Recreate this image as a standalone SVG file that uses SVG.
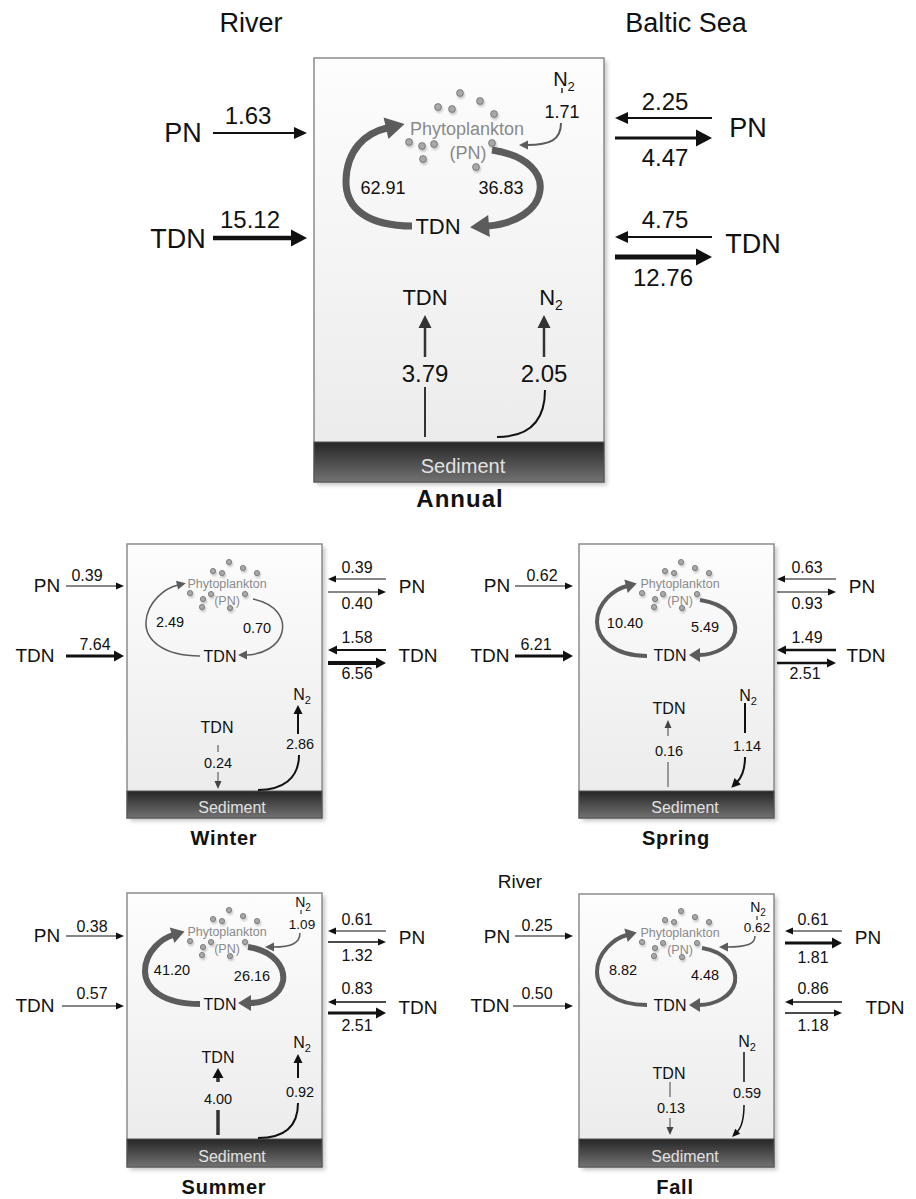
<svg xmlns="http://www.w3.org/2000/svg" width="916" height="1199" viewBox="0 0 916 1199">
<defs>
<linearGradient id="gBox" x1="0" y1="0" x2="0" y2="1"><stop offset="0" stop-color="#fdfdfd"/><stop offset="1" stop-color="#eaeaea"/></linearGradient>
<linearGradient id="gSed" x1="0" y1="0" x2="0" y2="1"><stop offset="0" stop-color="#262626"/><stop offset="1" stop-color="#727272"/></linearGradient>
<filter id="sh" x="-10%" y="-10%" width="130%" height="130%"><feGaussianBlur stdDeviation="2"/></filter>
<filter id="dsh" x="-50%" y="-50%" width="250%" height="250%"><feDropShadow dx="1" dy="2" stdDeviation="1.2" flood-color="#999" flood-opacity="0.6"/></filter>
<marker id="mBa" markerUnits="userSpaceOnUse" refX="1" refY="0" orient="auto" overflow="visible"><path d="M0,-6 L13,0 L0,6 z" fill="#111"/></marker>
<marker id="mBA" markerUnits="userSpaceOnUse" refX="1" refY="0" orient="auto" overflow="visible"><path d="M0,-8.5 L16,0 L0,8.5 z" fill="#111"/></marker>
<marker id="mDa" markerUnits="userSpaceOnUse" refX="1" refY="0" orient="auto" overflow="visible"><path d="M0,-6.5 L13,0 L0,6.5 z" fill="#333"/></marker>
<marker id="mBs" markerUnits="userSpaceOnUse" refX="1" refY="0" orient="auto" overflow="visible"><path d="M0,-3.5 L8,0 L0,3.5 z" fill="#111"/></marker>
<marker id="mBm" markerUnits="userSpaceOnUse" refX="1" refY="0" orient="auto" overflow="visible"><path d="M0,-4.5 L9,0 L0,4.5 z" fill="#111"/></marker>
<marker id="mBS" markerUnits="userSpaceOnUse" refX="1" refY="0" orient="auto" overflow="visible"><path d="M0,-5.5 L10,0 L0,5.5 z" fill="#111"/></marker>
<marker id="mDs" markerUnits="userSpaceOnUse" refX="1" refY="0" orient="auto" overflow="visible"><path d="M0,-3.5 L8,0 L0,3.5 z" fill="#444"/></marker>
<marker id="mGs" markerUnits="userSpaceOnUse" refX="1" refY="0" orient="auto" overflow="visible"><path d="M0,-4.5 L9,0 L0,4.5 z" fill="#5c5c5c"/></marker>
<marker id="mGm" markerUnits="userSpaceOnUse" refX="1" refY="0" orient="auto" overflow="visible"><path d="M0,-7 L11,0 L0,7 z" fill="#5c5c5c"/></marker>
<marker id="mGl" markerUnits="userSpaceOnUse" refX="1" refY="0" orient="auto" overflow="visible"><path d="M0,-8 L13,0 L0,8 z" fill="#5c5c5c"/></marker>
<marker id="mGA" markerUnits="userSpaceOnUse" refX="1" refY="0" orient="auto" overflow="visible"><path d="M0,-11 L19,0 L0,11 z" fill="#5c5c5c"/></marker>
<g id="sdots" class="dot">
<circle cx="102" cy="18" r="2.6"/><circle cx="86" cy="27" r="2.6"/><circle cx="95" cy="29" r="2.6"/><circle cx="116" cy="24" r="2.6"/><circle cx="130" cy="29" r="2.6"/><circle cx="63" cy="49" r="2.6"/><circle cx="76" cy="55" r="2.6"/><circle cx="84" cy="50" r="2.6"/><circle cx="75" cy="63" r="2.6"/><circle cx="118" cy="50" r="2.6"/><circle cx="103" cy="64" r="2.6"/>
</g>
</defs>
<style>
text{font-family:"Liberation Sans",Arial,Helvetica,sans-serif;text-anchor:middle;fill:#111}
.box{fill:url(#gBox);stroke:#8c8c8c;stroke-width:1.5}
.shadow{fill:#c4c4c4;filter:url(#sh)}
.sed{fill:url(#gSed);stroke:#555;stroke-width:1}
text.sedt{fill:#e2e2e2}
text.ph{fill:#8a8a8a}
.dot{fill:#a8a8a8;stroke:#6e6e6e;stroke-width:0.8;filter:url(#dsh)}
.bl{stroke:#111;fill:none}
.dk{stroke:#333;fill:none}
.gy{stroke:#5c5c5c;fill:none}
text.ttl{font-weight:bold}
.f27{font-size:27px}.f24{font-size:24px}.f22{font-size:22px}.f20{font-size:20px}.f19{font-size:19px}.f18{font-size:18px}.f16{font-size:16px}.f14{font-size:14.5px}.f13{font-size:13.5px}.f12{font-size:12.5px}
</style>
<rect width="916" height="1199" fill="#ffffff"/>

<!-- ================= ANNUAL ================= -->
<g id="annual">
  <g id="annual-box">
    <rect class="shadow" x="317" y="61" width="290" height="424"/>
    <rect class="box" x="314" y="58" width="290" height="424"/>
    <rect class="sed" x="314" y="442" width="290" height="40"/>
    <text class="sedt f20" x="463" y="473">Sediment</text>
    <text class="ttl f24" x="460" y="507" letter-spacing="1">Annual</text>
  </g>
  <g id="annual-labels">
    <text class="f27" x="251" y="32">River</text>
    <text class="f27" x="686" y="32">Baltic Sea</text>
    <text class="f27" x="183" y="142">PN</text>
    <text class="f27" x="178" y="248">TDN</text>
    <text class="f27" x="748" y="137">PN</text>
    <text class="f27" x="753" y="253">TDN</text>
  </g>
  <g id="annual-phyto">
    <g class="dot">
      <circle cx="460" cy="93" r="3.4"/><circle cx="438" cy="107" r="3.4"/><circle cx="452" cy="109" r="3.4"/><circle cx="480" cy="101" r="3.4"/><circle cx="494" cy="114" r="3.4"/><circle cx="409" cy="142" r="3.4"/><circle cx="422" cy="146" r="3.4"/><circle cx="434" cy="144" r="3.4"/><circle cx="423" cy="159" r="3.4"/><circle cx="492" cy="143" r="3.4"/><circle cx="476" cy="167" r="3.4"/>
    </g>
    <text class="ph f18" x="467" y="135">Phytoplankton</text>
    <text class="ph f18" x="468" y="159">(PN)</text>
  </g>
  <g id="annual-tdn-water"><text class="f22" x="438" y="234" font-size="23">TDN</text></g>
  <g id="annual-n2-top"><text x="564" y="86" font-size="20">N<tspan font-size="13" dy="5">2</tspan></text></g>
  <g id="annual-tdn-bottom"><text class="f22" x="425" y="305">TDN</text></g>
  <g id="annual-n2-bottom"><text x="551" y="305" font-size="22">N<tspan font-size="14" dy="5">2</tspan></text></g>
  <g id="annual-values">
    <text class="f24" x="248" y="124">1.63</text>
    <text class="f24" x="250" y="228">15.12</text>
    <text class="f24" x="665" y="110">2.25</text>
    <text class="f24" x="665" y="166">4.47</text>
    <text class="f24" x="665" y="228">4.75</text>
    <text class="f24" x="663" y="286">12.76</text>
    <text class="f18" x="562" y="118" font-size="19">1.71</text>
    <text class="f18" x="383" y="194">62.91</text>
    <text class="f18" x="501" y="194">36.83</text>
    <text class="f24" x="425" y="382">3.79</text>
    <text class="f24" x="544" y="382">2.05</text>
  </g>
  <g id="annual-connectors">
    <line class="bl" x1="213" y1="133" x2="295" y2="133" stroke-width="2" marker-end="url(#mBa)"/>
    <line class="bl" x1="213" y1="238" x2="292" y2="238" stroke-width="4.5" marker-end="url(#mBA)"/>
    <line class="bl" x1="712" y1="118" x2="627" y2="118" stroke-width="2" marker-end="url(#mBa)"/>
    <line class="bl" x1="615" y1="138" x2="697" y2="138" stroke-width="3" marker-end="url(#mBA)"/>
    <line class="bl" x1="712" y1="237" x2="627" y2="237" stroke-width="2" marker-end="url(#mBa)"/>
    <line class="bl" x1="615" y1="257" x2="697" y2="257" stroke-width="5" marker-end="url(#mBA)"/>
    <line class="gy" x1="562" y1="88" x2="562" y2="93" stroke-width="2"/>
    <path class="gy" d="M561,123 C561,140 550,145 527,145" stroke-width="2" marker-end="url(#mGs)"/>
    <path class="gy" d="M412,226 C370,226 345,210 346,180 C347,150 365,133 387,128" stroke-width="7" marker-end="url(#mGA)"/>
    <path class="gy" d="M492,150 C530,156 542,175 540,190 C538,210 515,224 488,226" stroke-width="7" marker-end="url(#mGA)"/>
    <line class="dk" x1="425" y1="357" x2="425" y2="327" stroke-width="2.5" marker-end="url(#mDa)"/>
    <line class="dk" x1="425" y1="387" x2="425" y2="437" stroke-width="2"/>
    <line class="dk" x1="544" y1="357" x2="544" y2="327" stroke-width="2.5" marker-end="url(#mDa)"/>
    <path class="bl" d="M545,390 C545,420 530,437 497,437" stroke-width="2"/>
  </g>
</g>

<!-- ================= WINTER ================= -->
<g id="winter" transform="translate(127,544)">
  <g id="winter-box">
    <rect class="shadow" x="3" y="3" width="195" height="274"/>
    <rect class="box" x="0" y="0" width="195" height="274"/>
    <rect class="sed" x="0" y="247" width="195" height="27"/>
    <text class="sedt f16" x="105" y="269">Sediment</text>
    <text class="ttl f20" x="97" y="301" letter-spacing="0.8">Winter</text>
  </g>
  <g id="winter-phyto"><use href="#sdots"/><text class="ph f12" x="100" y="44">Phytoplankton</text><text class="ph f12" x="100" y="61">(PN)</text></g>
  <g id="winter-labels">
    <text class="f19" x="-80" y="48">PN</text><text class="f19" x="-92" y="118">TDN</text>
    <text class="f19" x="285" y="49">PN</text><text class="f19" x="291" y="118">TDN</text>
    <text class="f16" x="93" y="118">TDN</text>
    <text x="175" y="156" font-size="16">N<tspan font-size="11" dy="4">2</tspan></text>
    <text class="f16" x="90" y="189">TDN</text>
  </g>
  <g id="winter-values">
    <text class="f16" x="-40" y="37">0.39</text><text class="f16" x="-32" y="106">7.64</text>
    <text class="f16" x="230" y="29">0.39</text><text class="f16" x="230" y="65">0.40</text>
    <text class="f16" x="230" y="99">1.58</text><text class="f16" x="230" y="135">6.56</text>
    <text class="f14" x="43" y="83">2.49</text><text class="f14" x="130" y="89">0.70</text>
    <text class="f14" x="173" y="205">2.86</text><text class="f14" x="91" y="224">0.24</text>
  </g>
  <g id="winter-connectors">
    <line class="bl" x1="-61" y1="42" x2="-10" y2="42" stroke-width="1.2" marker-end="url(#mBs)"/>
    <line class="bl" x1="-61" y1="112" x2="-12" y2="112" stroke-width="3" marker-end="url(#mBS)"/>
    <line class="bl" x1="259" y1="35" x2="208" y2="35" stroke-width="1.2" marker-end="url(#mBs)"/>
    <line class="bl" x1="201" y1="48" x2="252" y2="48" stroke-width="1.2" marker-end="url(#mBs)"/>
    <line class="bl" x1="259" y1="106" x2="209" y2="106" stroke-width="2" marker-end="url(#mBm)"/>
    <line class="bl" x1="201" y1="119" x2="250" y2="119" stroke-width="4" marker-end="url(#mBS)"/>
    <path class="gy" d="M73,112 C35,112 18,95 19,78 C20,58 38,44 51,41" stroke-width="1.5" marker-end="url(#mGs)"/>
    <path class="gy" d="M126,55 C150,60 158,75 155,88 C152,102 135,111 119,111" stroke-width="1.5" marker-end="url(#mGs)"/>
    <line class="bl" x1="171" y1="190" x2="171" y2="169" stroke-width="2" marker-end="url(#mBm)"/>
    <path class="bl" d="M172,211 C172,235 155,246 131,246" stroke-width="2"/>
    <line stroke="#444" x1="91" y1="201" x2="91" y2="208" stroke-width="1"/>
    <line stroke="#444" x1="91" y1="228" x2="91" y2="238" stroke-width="1" marker-end="url(#mDs)"/>
  </g>
</g>

<!-- ================= SPRING ================= -->
<g id="spring" transform="translate(579,544)">
  <g id="spring-box">
    <rect class="shadow" x="3" y="3" width="195" height="274"/>
    <rect class="box" x="0" y="0" width="195" height="274"/>
    <rect class="sed" x="0" y="247" width="195" height="27"/>
    <text class="sedt f16" x="106" y="269">Sediment</text>
    <text class="ttl f20" x="97" y="301" letter-spacing="0.8">Spring</text>
  </g>
  <g id="spring-phyto"><use href="#sdots"/><text class="ph f12" x="101" y="44">Phytoplankton</text><text class="ph f12" x="101" y="61">(PN)</text></g>
  <g id="spring-labels">
    <text class="f19" x="-82" y="48">PN</text><text class="f19" x="-89" y="118">TDN</text>
    <text class="f19" x="283" y="49">PN</text><text class="f19" x="287" y="118">TDN</text>
    <text class="f16" x="91" y="117">TDN</text>
    <text x="169" y="157" font-size="16">N<tspan font-size="11" dy="4">2</tspan></text>
    <text class="f16" x="90" y="170">TDN</text>
  </g>
  <g id="spring-values">
    <text class="f16" x="-37" y="37">0.62</text><text class="f16" x="-43" y="106">6.21</text>
    <text class="f16" x="228" y="29">0.63</text><text class="f16" x="228" y="65">0.93</text>
    <text class="f16" x="228" y="99">1.49</text><text class="f16" x="226" y="135">2.51</text>
    <text class="f14" x="46" y="84">10.40</text><text class="f14" x="126" y="88">5.49</text>
    <text class="f14" x="168" y="207">1.14</text><text class="f14" x="90" y="212">0.16</text>
  </g>
  <g id="spring-connectors">
    <line class="bl" x1="-64" y1="42" x2="-13" y2="42" stroke-width="1.2" marker-end="url(#mBs)"/>
    <line class="bl" x1="-64" y1="112" x2="-15" y2="112" stroke-width="3" marker-end="url(#mBS)"/>
    <line class="bl" x1="257" y1="35" x2="205" y2="35" stroke-width="1.2" marker-end="url(#mBs)"/>
    <line class="bl" x1="198" y1="48" x2="250" y2="48" stroke-width="1.2" marker-end="url(#mBs)"/>
    <line class="bl" x1="257" y1="106" x2="206" y2="106" stroke-width="2.5" marker-end="url(#mBm)"/>
    <line class="bl" x1="198" y1="119" x2="249" y2="119" stroke-width="2.5" marker-end="url(#mBm)"/>
    <path class="gy" d="M68,112 C35,112 18,95 18,78 C18,58 36,45 48,42" stroke-width="4" marker-end="url(#mGm)"/>
    <path class="gy" d="M121,56 C148,60 158,75 156,88 C153,103 135,111 120,111" stroke-width="4" marker-end="url(#mGm)"/>
    <line stroke="#444" x1="89" y1="192" x2="89" y2="183" stroke-width="1" marker-end="url(#mDs)"/>
    <line stroke="#444" x1="89" y1="218" x2="89" y2="243" stroke-width="1"/>
    <line class="bl" x1="166" y1="159" x2="166" y2="189" stroke-width="2"/>
    <path class="bl" d="M166,213 C166,225 164,232 158,238" stroke-width="2" marker-end="url(#mBm)"/>
  </g>
</g>

<!-- ================= SUMMER ================= -->
<g id="summer" transform="translate(127,893)">
  <g id="summer-box">
    <rect class="shadow" x="3" y="3" width="195" height="274"/>
    <rect class="box" x="0" y="0" width="195" height="274"/>
    <rect class="sed" x="0" y="246" width="195" height="28"/>
    <text class="sedt f16" x="105" y="269">Sediment</text>
    <text class="ttl f20" x="97" y="301" letter-spacing="0.8">Summer</text>
  </g>
  <g id="summer-phyto"><use href="#sdots" transform="translate(0,-1)"/><text class="ph f12" x="100" y="43">Phytoplankton</text><text class="ph f12" x="100" y="60">(PN)</text></g>
  <g id="summer-labels">
    <text class="f19" x="-80" y="49">PN</text><text class="f19" x="-92" y="119">TDN</text>
    <text class="f19" x="285" y="51">PN</text><text class="f19" x="291" y="121">TDN</text>
    <text class="f16" x="93" y="117">TDN</text>
    <text x="176" y="14" font-size="14">N<tspan font-size="10" dy="4">2</tspan></text>
    <text x="175" y="155" font-size="16">N<tspan font-size="11" dy="4">2</tspan></text>
    <text class="f16" x="91" y="170">TDN</text>
  </g>
  <g id="summer-values">
    <text class="f16" x="-35" y="39">0.38</text><text class="f16" x="-35" y="106">0.57</text>
    <text class="f16" x="230" y="32">0.61</text><text class="f16" x="230" y="68">1.32</text>
    <text class="f16" x="230" y="101">0.83</text><text class="f16" x="230" y="138">2.51</text>
    <text class="f13" x="175" y="36">1.09</text>
    <text class="f14" x="45" y="82">41.20</text><text class="f14" x="125" y="88">26.16</text>
    <text class="f14" x="173" y="204">0.92</text><text class="f14" x="91" y="211">4.00</text>
  </g>
  <g id="summer-connectors">
    <line class="bl" x1="-61" y1="43" x2="-10" y2="43" stroke-width="1.2" marker-end="url(#mBs)"/>
    <line class="bl" x1="-65" y1="113" x2="-10" y2="113" stroke-width="1.2" marker-end="url(#mBs)"/>
    <line class="bl" x1="259" y1="38" x2="208" y2="38" stroke-width="1.2" marker-end="url(#mBs)"/>
    <line class="bl" x1="201" y1="49" x2="252" y2="49" stroke-width="1.5" marker-end="url(#mBs)"/>
    <line class="bl" x1="259" y1="109" x2="208" y2="109" stroke-width="1.5" marker-end="url(#mBs)"/>
    <line class="bl" x1="201" y1="120" x2="250" y2="120" stroke-width="3" marker-end="url(#mBS)"/>
    <line class="gy" x1="174" y1="17" x2="174" y2="21" stroke-width="1.5"/>
    <path class="gy" d="M173,40 C173,50 165,54 146,54" stroke-width="1.5" marker-end="url(#mGs)"/>
    <path class="gy" d="M73,111 C35,111 18,95 18,78 C18,58 36,45 46,42" stroke-width="6" marker-end="url(#mGl)"/>
    <path class="gy" d="M121,54 C148,58 158,75 156,88 C153,103 137,110 123,110" stroke-width="6" marker-end="url(#mGl)"/>
    <line class="bl" x1="171" y1="185" x2="171" y2="169" stroke-width="2" marker-end="url(#mBm)"/>
    <path class="bl" d="M171,210 C171,235 155,245 131,245" stroke-width="2"/>
    <line class="dk" x1="91" y1="189" x2="91" y2="184" stroke-width="3.5" marker-end="url(#mBS)"/>
    <line class="dk" x1="91" y1="217" x2="91" y2="242" stroke-width="3.5"/>
  </g>
</g>

<!-- ================= FALL ================= -->
<text id="river-fall" class="f19" x="520" y="888">River</text>
<g id="fall" transform="translate(579,894)">
  <g id="fall-box">
    <rect class="shadow" x="3" y="3" width="195" height="273"/>
    <rect class="box" x="0" y="0" width="195" height="273"/>
    <rect class="sed" x="0" y="245" width="195" height="28"/>
    <text class="sedt f16" x="106" y="268">Sediment</text>
    <text class="ttl f20" x="96" y="300" letter-spacing="0.8">Fall</text>
  </g>
  <g id="fall-phyto"><use href="#sdots" transform="translate(0,-1)"/><text class="ph f12" x="101" y="43">Phytoplankton</text><text class="ph f12" x="101" y="60">(PN)</text></g>
  <g id="fall-labels">
    <text class="f19" x="-82" y="49">PN</text><text class="f19" x="-89" y="118">TDN</text>
    <text class="f19" x="289" y="50">PN</text><text class="f19" x="306" y="120">TDN</text>
    <text class="f16" x="91" y="117">TDN</text>
    <text x="179" y="18" font-size="14">N<tspan font-size="10" dy="4">2</tspan></text>
    <text x="168" y="153" font-size="16">N<tspan font-size="11" dy="4">2</tspan></text>
    <text class="f16" x="90" y="185">TDN</text>
  </g>
  <g id="fall-values">
    <text class="f16" x="-42" y="37">0.25</text><text class="f16" x="-42" y="105">0.50</text>
    <text class="f16" x="234" y="31">0.61</text><text class="f16" x="234" y="69">1.81</text>
    <text class="f16" x="234" y="100">0.86</text><text class="f16" x="234" y="137">1.18</text>
    <text class="f13" x="178" y="38">0.62</text>
    <text class="f14" x="44" y="81">8.82</text><text class="f14" x="126" y="86">4.48</text>
    <text class="f14" x="168" y="204">0.59</text><text class="f14" x="92" y="219">0.13</text>
  </g>
  <g id="fall-connectors">
    <line class="bl" x1="-64" y1="42" x2="-13" y2="42" stroke-width="1.2" marker-end="url(#mBs)"/>
    <line class="bl" x1="-66" y1="112" x2="-13" y2="112" stroke-width="1.2" marker-end="url(#mBs)"/>
    <line class="bl" x1="263" y1="37" x2="213" y2="37" stroke-width="1.2" marker-end="url(#mBs)"/>
    <line class="bl" x1="206" y1="49" x2="254" y2="49" stroke-width="3" marker-end="url(#mBS)"/>
    <line class="bl" x1="263" y1="108" x2="213" y2="108" stroke-width="1.5" marker-end="url(#mBs)"/>
    <line class="bl" x1="206" y1="119" x2="256" y2="119" stroke-width="1.5" marker-end="url(#mBs)"/>
    <line class="gy" x1="178" y1="22" x2="178" y2="26" stroke-width="1.5"/>
    <path class="gy" d="M176,42 C176,50 168,53 148,53" stroke-width="1.5" marker-end="url(#mGs)"/>
    <path class="gy" d="M68,111 C35,111 18,95 18,78 C18,58 36,44 48,41" stroke-width="4" marker-end="url(#mGm)"/>
    <path class="gy" d="M123,54 C148,58 158,75 156,88 C153,103 135,111 120,111" stroke-width="4" marker-end="url(#mGm)"/>
    <line class="bl" x1="165" y1="158" x2="165" y2="188" stroke-width="1.5"/>
    <path class="bl" d="M165,211 C165,225 163,233 158,238" stroke-width="1.5" marker-end="url(#mBs)"/>
    <line stroke="#444" x1="91" y1="188" x2="91" y2="203" stroke-width="1"/>
    <line stroke="#444" x1="91" y1="224" x2="91" y2="234" stroke-width="1" marker-end="url(#mDs)"/>
  </g>
</g>
</svg>
